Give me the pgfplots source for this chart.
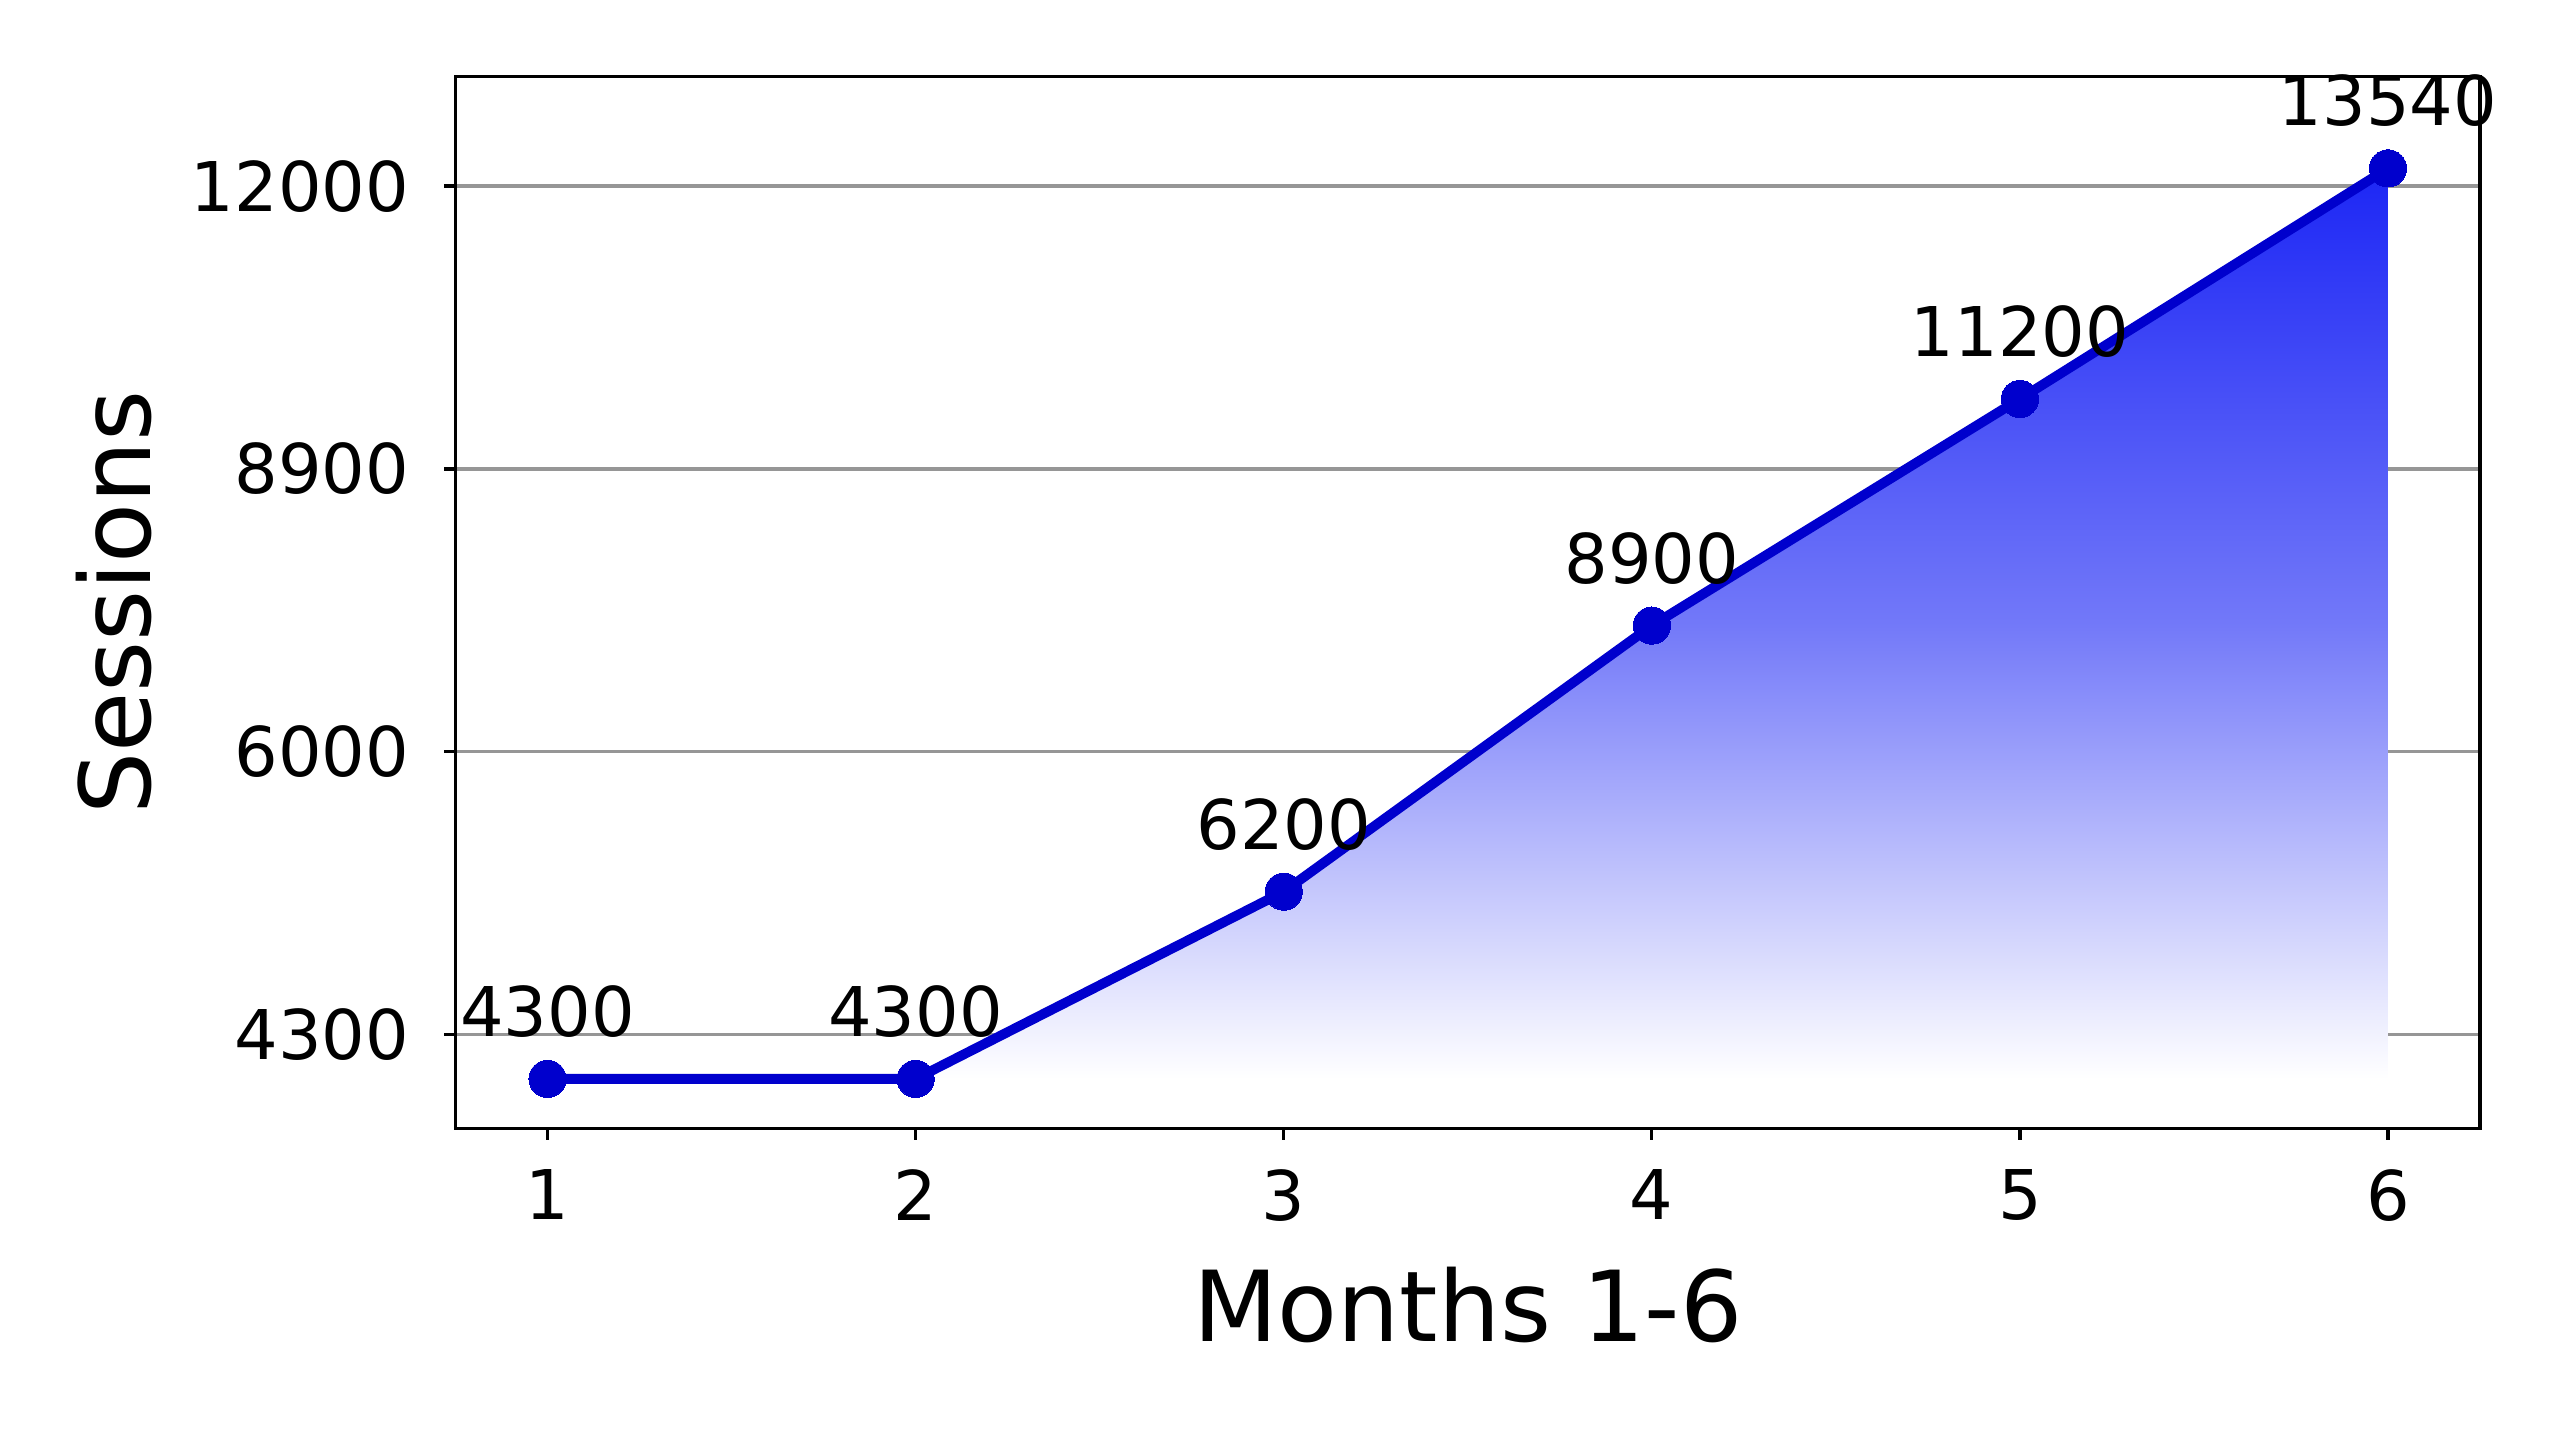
\documentclass[border=0pt]{standalone}
\usepackage{fontspec}
\setmainfont{DejaVu Sans}
\usepackage{pgfplots}
\pgfplotsset{compat=1.18}
\definecolor{lineblue}{RGB}{0,0,205}
\definecolor{filltop}{RGB}{28,38,245}
\definecolor{gridgray}{RGB}{150,150,150}

\begin{document}
\begin{tikzpicture}
\path (-139.5pt,-95.5pt) rectangle (644.5pt,345.5pt);
\begin{axis}[
  at={(0,0)}, anchor=south west,
  scale only axis, width=620pt, height=322pt,
  xmin=0.75, xmax=6.25, ymin=3800, ymax=14470,
  xtick={1,2,3,4,5,6},
  ytick={4750,7620,10490,13360},
  yticklabels={4300,6000,8900,12000},
  scaled y ticks=false,
  ymajorgrids,
  major grid style={gridgray, line width=1pt},
  tick align=outside, major tick length=3.5pt,
  tick style={black, line width=1pt},
  axis line style={line width=1pt},
  xtick pos=bottom, ytick pos=left,
  /pgf/number format/assume math mode=true,
  every tick label/.append style={font=\fontsize{21}{25}\selectfont},
  xticklabel style={anchor=north, inner sep=0pt, yshift=-9pt},
  yticklabel style={anchor=east, inner sep=0pt, xshift=-10.5pt},
  xlabel={Months 1-6}, ylabel={Sessions},
  label style={font=\fontsize{30}{36}\selectfont},
  xlabel style={at={(axis description cs:0.5,0)}, anchor=center, yshift=-54pt},
  ylabel style={at={(axis description cs:-0.1685,0.5)}, anchor=center},
]
% gradient area under the line
\addplot[draw=none, top color=filltop, bottom color=white, middle color=filltop!62!white]
  coordinates {(1,4300) (2,4300) (3,6200) (4,8900) (5,11200) (6,13540) (6,4300) (1,4300)};
% line with markers and value labels
\addplot[lineblue, line width=3pt, mark=*, mark size=5.7pt,
  mark options={fill=lineblue, draw=lineblue, line width=0pt},
  point meta=explicit symbolic, nodes near coords,
  nodes near coords style={anchor=base, yshift=13pt, inner sep=0pt, black,
    font=\fontsize{21}{25}\selectfont}]
  coordinates {(1,4300)[4300] (2,4300)[4300] (3,6200)[6200] (4,8900)[8900] (5,11200)[11200] (6,13540)[13540]};
\end{axis}
\end{tikzpicture}
\end{document}
